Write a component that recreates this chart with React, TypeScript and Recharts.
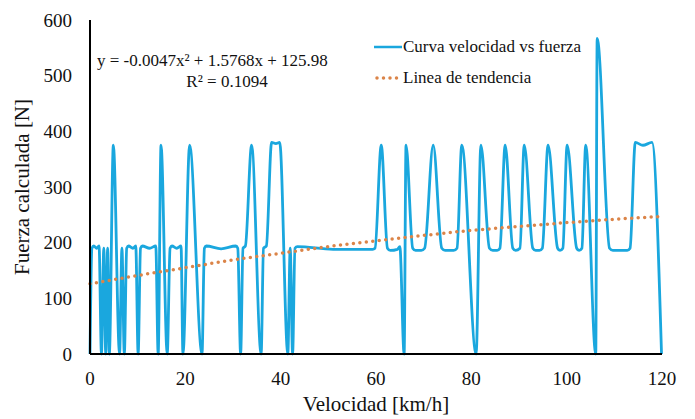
import { LineChart, Line, XAxis, YAxis } from "recharts";

// Velocidad [km/h] / fuerza [N] points
const speeds = [
  0, 0.4, 0.8, 1.4, 1.9, 2.4, 2.9, 3.3, 3.7, 4.05, 4.9, 6.2, 6.7, 7.2, 7.7, 8.1, 9.0, 9.6, 10.1, 10.6,
  11.0, 12.5, 13.8, 14.3, 14.9, 16.2, 16.8, 17.2, 18.2, 19.1, 19.5, 20.9, 23.5, 24.0, 24.4, 27.5, 30.6, 31.0, 31.6, 32.1,
  32.6, 33.9, 35.9, 36.4, 37.0, 38.1, 39.0, 39.8, 41.5, 42.0, 42.5, 43.0, 43.5, 51.0, 59.3, 59.8, 61.1, 62.4, 63.0, 64.5,
  65.0, 65.9, 66.3, 67.7, 68.3, 69.5, 70.2, 72.0, 73.8, 74.5, 76.3, 77.0, 78.0, 81.0, 82.0, 83.8, 84.5, 85.4, 86.0, 87.1,
  88.7, 89.3, 90.2, 91.1, 92.9, 93.5, 94.3, 94.9, 96.1, 98.1, 98.6, 99.2, 100.1, 102.1, 102.6, 103.2, 104.0, 106.1, 106.4, 109.0,
  109.7, 112.7, 113.3, 114.4, 116.0, 117.9, 119.9,
];
const forces = [
  0, 190, 194, 190, 194, 0, 190, 0, 190, 0, 375, 0, 190, 0, 190, 194, 190, 194, 0, 190,
  194, 190, 194, 0, 375, 0, 190, 194, 190, 194, 0, 375, 0, 190, 194, 189, 194, 190, 0, 190,
  194, 375, 0, 190, 194, 380, 378, 380, 0, 190, 0, 190, 193, 188, 188, 190, 375, 190, 186, 188,
  193, 0, 375, 190, 186, 186, 190, 375, 190, 186, 186, 190, 375, 0, 375, 190, 186, 186, 190, 375,
  190, 186, 190, 375, 190, 186, 186, 190, 375, 190, 186, 190, 375, 190, 186, 190, 375, 0, 567, 190,
  186, 186, 190, 380, 375, 380, 0,
];

// tendencia
const trendSpeeds = [0, 10, 20, 30, 40, 50, 60, 70, 80, 90, 100, 110, 120];
const trendForces = [126, 141, 155, 169, 181, 193, 203, 213, 222, 229, 236, 242, 247];

const xTicks = [0, 20, 40, 60, 80, 100, 120];
const yTicks = [0, 100, 200, 300, 400, 500, 600];

const curve = speeds.map((v, i) => ({ v, f: forces[i] }));
const trend = trendSpeeds.map((v, i) => ({ v, t: trendForces[i] }));

const FONT = '"Liberation Serif", "Times New Roman", serif';
const BLUE = "#1AA7DE";
const ORANGE = "#DB8448";

function LegendBox() {
  return (
    <div style={{ position: "absolute", left: 374, top: 31, fontFamily: FONT, fontSize: 17, color: "#111", lineHeight: "31px" }}>
      <div style={{ display: "flex", alignItems: "center" }}>
        <svg width={29} height={6}>
          <line x1={0} y1={3} x2={28} y2={3} stroke={BLUE} strokeWidth={2.5} />
        </svg>
        <span>Curva velocidad vs fuerza</span>
      </div>
      <div style={{ display: "flex", alignItems: "center" }}>
        <svg width={29} height={6}>
          <line x1={3} y1={3} x2={27} y2={3} stroke={ORANGE} strokeWidth={3.5} strokeDasharray="0 6.5" strokeLinecap="round" />
        </svg>
        <span>Linea de tendencia</span>
      </div>
    </div>
  );
}

export default function App() {
  return (
    <div style={{ position: "absolute", left: 0, top: 0, width: 695, height: 419, background: "#fff" }}>
      <LineChart width={695} height={419} margin={{ top: 20, right: 33, left: 0, bottom: 0 }}>
        <XAxis
          type="number"
          dataKey="v"
          domain={[0, 120]}
          ticks={xTicks}
          allowDuplicatedCategory={false}
          height={65}
          tickLine={false}
          tickMargin={12}
          axisLine={{ stroke: "#000", strokeWidth: 2 }}
          tick={{ fill: "#111", fontSize: 19, fontFamily: FONT }}
          label={{ value: "Velocidad [km/h]", position: "center", dy: 17, fill: "#111", fontSize: 21, fontFamily: FONT }}
        />
        <YAxis
          type="number"
          domain={[0, 600]}
          ticks={yTicks}
          width={90}
          tickLine={false}
          tickMargin={12}
          axisLine={{ stroke: "#000", strokeWidth: 2 }}
          tick={{ fill: "#111", fontSize: 19, fontFamily: FONT }}
          label={{ value: "Fuerza calculada [N]", angle: -90, position: "center", dx: -23, fill: "#111", fontSize: 21, fontFamily: FONT }}
        />
        <Line
          data={curve}
          dataKey="f"
          type="monotone"
          stroke={BLUE}
          strokeWidth={2.8}
          dot={false}
          isAnimationActive={false}
        />
        <Line
          data={trend}
          dataKey="t"
          type="monotone"
          stroke={ORANGE}
          strokeWidth={3.5}
          strokeDasharray="0 6.5"
          strokeLinecap="round"
          dot={false}
          isAnimationActive={false}
        />
      </LineChart>
      <LegendBox />
      <div style={{ position: "absolute", left: 97, top: 51, fontFamily: FONT, fontSize: 17, color: "#111", whiteSpace: "nowrap" }}>
        y = -0.0047x² + 1.5768x + 125.98
      </div>
      <div style={{ position: "absolute", left: 167, top: 72, width: 120, textAlign: "center", fontFamily: FONT, fontSize: 17, color: "#111" }}>
        R² = 0.1094
      </div>
    </div>
  );
}
